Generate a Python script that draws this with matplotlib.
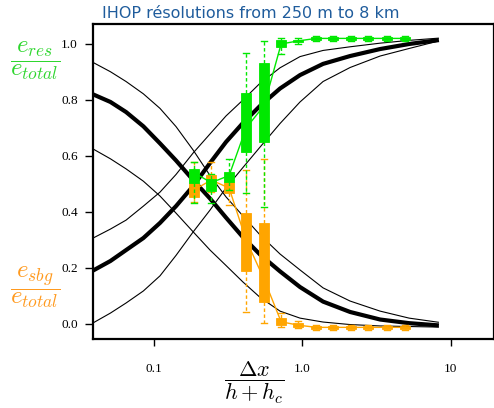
import matplotlib
matplotlib.use("Agg")
import matplotlib.pyplot as plt

# Scaled resolution  dx / (h + hc)
x_curve = [0.039, 0.051, 0.065, 0.085, 0.110, 0.141, 0.184, 0.239, 0.306,
           0.398, 0.519, 0.707, 0.964, 1.378, 2.094, 3.336, 5.23, 8.3]

# Partial-similarity curves (resolved part rises, subgrid part falls)
res_mid = [0.191, 0.225, 0.264, 0.307, 0.361, 0.421, 0.493, 0.575, 0.650,
           0.718, 0.779, 0.841, 0.889, 0.929, 0.957, 0.982, 1.000, 1.014]
res_hi = [0.307, 0.339, 0.371, 0.421, 0.471, 0.534, 0.611, 0.679, 0.743,
          0.800, 0.860, 0.915, 0.955, 0.977, 0.990, 1.003, 1.013, 1.021]
res_lo = [0.004, 0.039, 0.075, 0.118, 0.172, 0.245, 0.329, 0.407, 0.486,
          0.559, 0.632, 0.716, 0.793, 0.866, 0.916, 0.957, 0.984, 1.011]
sbg_mid = [0.820, 0.793, 0.757, 0.706, 0.645, 0.584, 0.514, 0.448, 0.380,
           0.310, 0.248, 0.188, 0.132, 0.080, 0.043, 0.016, 0.003, -0.005]
sbg_hi = [0.934, 0.901, 0.866, 0.822, 0.770, 0.705, 0.621, 0.530, 0.454,
          0.386, 0.318, 0.250, 0.193, 0.129, 0.082, 0.046, 0.021, 0.006]
sbg_lo = [0.625, 0.590, 0.554, 0.510, 0.457, 0.396, 0.329, 0.264, 0.209,
          0.150, 0.095, 0.046, 0.021, 0.007, -0.002, -0.007, -0.009, -0.011]

# LES statistics at each resolution
x_obs = [0.187, 0.243, 0.321, 0.418, 0.552, 0.719, 0.935, 1.24, 1.61,
         2.13, 2.77, 3.72, 4.91]

res_mean = [0.540, 0.505, 0.530, 0.700, 0.780, 1.000, 1.011, 1.020, 1.020,
            1.020, 1.020, 1.020, 1.020]
res_q1 = [0.504, 0.475, 0.507, 0.614, 0.651, 0.989, 1.007, 1.016, 1.016,
          1.016, 1.016, 1.016, 1.016]
res_q3 = [0.554, 0.518, 0.543, 0.824, 0.931, 1.014, 1.014, 1.024, 1.024,
          1.024, 1.024, 1.024, 1.024]
res_lo_w = [0.432, 0.432, 0.480, 0.467, 0.419, 0.963, 1.000, 1.012, 1.012,
            1.012, 1.012, 1.012, 1.012]
res_hi_w = [0.580, 0.535, 0.589, 0.967, 1.010, 1.021, 1.022, 1.027, 1.027,
            1.027, 1.027, 1.027, 1.027]

sbg_mean = [0.479, 0.514, 0.486, 0.300, 0.160, 0.008, -0.004, -0.012, -0.012,
            -0.012, -0.012, -0.012, -0.012]
sbg_q1 = [0.454, 0.493, 0.468, 0.189, 0.080, -0.004, -0.010, -0.017, -0.017,
          -0.017, -0.017, -0.017, -0.017]
sbg_q3 = [0.504, 0.532, 0.507, 0.396, 0.360, 0.021, 0.004, -0.007, -0.007,
          -0.007, -0.007, -0.007, -0.007]
sbg_lo_w = [0.435, 0.470, 0.425, 0.044, 0.003, -0.010, -0.015, -0.020, -0.020,
            -0.020, -0.020, -0.020, -0.020]
sbg_hi_w = [0.580, 0.580, 0.530, 0.550, 0.590, 0.040, 0.010, -0.004, -0.004,
            -0.004, -0.004, -0.004, -0.004]

x_ticks = [0.1, 1.0, 10]
x_ticklabels = ["0.1", "1.0", "10"]
y_ticks = [0.0, 0.2, 0.4, 0.6, 0.8, 1.0]
y_ticklabels = ["0.0", "0.2", "0.4", "0.6", "0.8", "1.0"]

GREEN = "#00e800"
ORANGE = "#ffa500"
GREEN_TXT = "#2fd62f"
ORANGE_TXT = "#ff9a1f"

plt.rcParams["mathtext.fontset"] = "cm"

W, H = 494, 408
fig = plt.figure(figsize=(W / 100, H / 100), dpi=100)
ax = fig.add_axes([93 / W, 1 - 339 / H, 401 / W, 315 / H])

# similarity curves
for ys, lw in [(res_hi, 0.8), (res_lo, 0.8), (sbg_hi, 0.8), (sbg_lo, 0.8),
               (res_mid, 3.0), (sbg_mid, 3.0)]:
    ax.plot(x_curve, ys, color="black", lw=lw, zorder=2,
            solid_capstyle="butt", solid_joinstyle="round")


def draw_boxes(q1, q3, wlo, whi, mean, color, z):
    stats = [dict(med=m, q1=a, q3=b, whislo=c, whishi=d)
             for a, b, c, d, m in zip(q1, q3, wlo, whi, mean)]
    ax.bxp(stats, positions=x_obs, widths=[0.147 * p for p in x_obs],
           capwidths=[0.09 * p for p in x_obs],
           patch_artist=True, showfliers=False, manage_ticks=False,
           boxprops=dict(facecolor=color, edgecolor=color, linewidth=0.6),
           medianprops=dict(linestyle="none"),
           whiskerprops=dict(color=color, linestyle=(0, (2.5, 1.8)),
                             linewidth=1.0),
           capprops=dict(color=color, linewidth=1.0),
           zorder=z)
    ax.plot(x_obs, mean, color=color, lw=1.0, zorder=z - 0.5)


draw_boxes(sbg_q1, sbg_q3, sbg_lo_w, sbg_hi_w, sbg_mean, ORANGE, 3.5)
draw_boxes(res_q1, res_q3, res_lo_w, res_hi_w, res_mean, GREEN, 4.5)

ax.set_xscale("log")
ax.set_xlim(0.03893, 19.5)
ax.set_ylim(-15 / 280, 300 / 280)
ax.set_xticks(x_ticks)
ax.set_xticklabels(x_ticklabels)
ax.xaxis.set_minor_locator(matplotlib.ticker.NullLocator())
ax.set_yticks(y_ticks)
ax.set_yticklabels(y_ticklabels)

for lab in ax.get_xticklabels() + ax.get_yticklabels():
    lab.set_fontfamily("Liberation Serif")
    lab.set_fontsize(9.5)

ax.tick_params(axis="x", direction="out", length=5, width=1.0, pad=12)
ax.tick_params(axis="y", direction="out", length=6, width=1.0, pad=5)
for s in ax.spines.values():
    s.set_linewidth(1.6)

ax.set_xlabel(r"$\dfrac{\Delta x}{h+h_c}$", fontsize=16, va="center")
ax.xaxis.set_label_coords((254 - 93) / 401, (339 - 383) / 315)

fig.text(35 / W, 1 - 61 / H, r"$\dfrac{e_{res}}{e_{total}}$", color=GREEN_TXT,
         fontsize=18, ha="center", va="center")
fig.text(35 / W, 1 - 287 / H, r"$\dfrac{e_{sbg}}{e_{total}}$", color=ORANGE_TXT,
         fontsize=18, ha="center", va="center")

fig.text(251 / W, 1 - 13 / H, "IHOP résolutions from 250 m to 8 km",
         color="#1f5c9c", fontsize=11.5, ha="center", va="center")

fig.savefig("out.png", dpi=100)
